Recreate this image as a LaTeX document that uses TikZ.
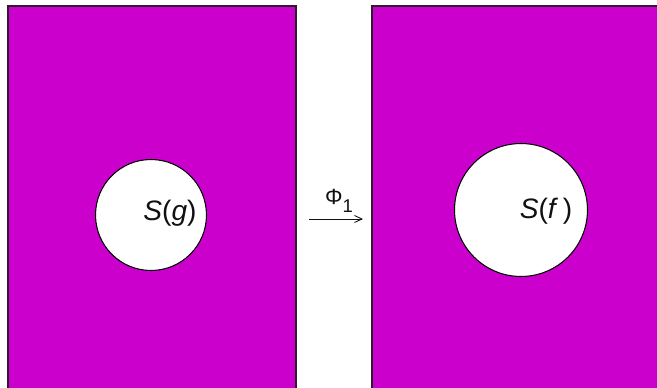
\documentclass[tikz,border=0pt]{standalone}
\usepackage{fontspec}
\setmainfont{Liberation Sans}
\usetikzlibrary{arrows.meta,positioning}
\definecolor{spMagenta}{HTML}{CC00CC}
\definecolor{spEdge}{HTML}{2E1A2E}
\definecolor{spInk}{HTML}{111111}
\tikzset{
  sp sheet/.style={fill=spMagenta, draw=spEdge, line width=1.1pt},
  sp hole/.style={circle, fill=white, draw=black, line width=.6pt, inner sep=0pt},
  sp label/.style={font=\fontsize{16}{18}\selectfont, text=spInk},
  sp map/.style={
    draw=spInk,
    line width=.5pt,
    -{Straight Barb[length=1.5mm,width=1.4mm]}
  },
  sp map label/.style={font=\fontsize{12.5}{14}\selectfont, text=spInk}
}

\begin{document}
\begin{tikzpicture}[x=0.02cm,y=-0.02cm]
  \useasboundingbox (0,0) rectangle (657,388);
  \begin{scope}
    \clip (0,0) rectangle (657,388);
    \path[sp sheet] (8,6) rectangle (296,400);
    \path[sp sheet] (372,6) rectangle (670,400);
  \end{scope}

  % the two holes
  \node[sp hole, minimum size=2.22cm] (g hole) at (151,215) {};
  \node[sp hole, minimum size=2.66cm] (f hole) at (521,210) {};
  \node[sp label] (g label) at (170,213) {\textit{S}(\textit{g})};
  \node[sp label] (f label) at (546,211) {\textit{S}(\textit{f}\,)};

  % the map
  \coordinate (map tail) at (309,219);
  \coordinate (map head) at (363,219);
  \draw[sp map] (map tail) -- (map head);
  \node[sp map label] (map label) at (339,201)
    {Φ\raisebox{-.4em}{\fontsize{10.5}{12}\selectfont 1}};
\end{tikzpicture}
\end{document}
